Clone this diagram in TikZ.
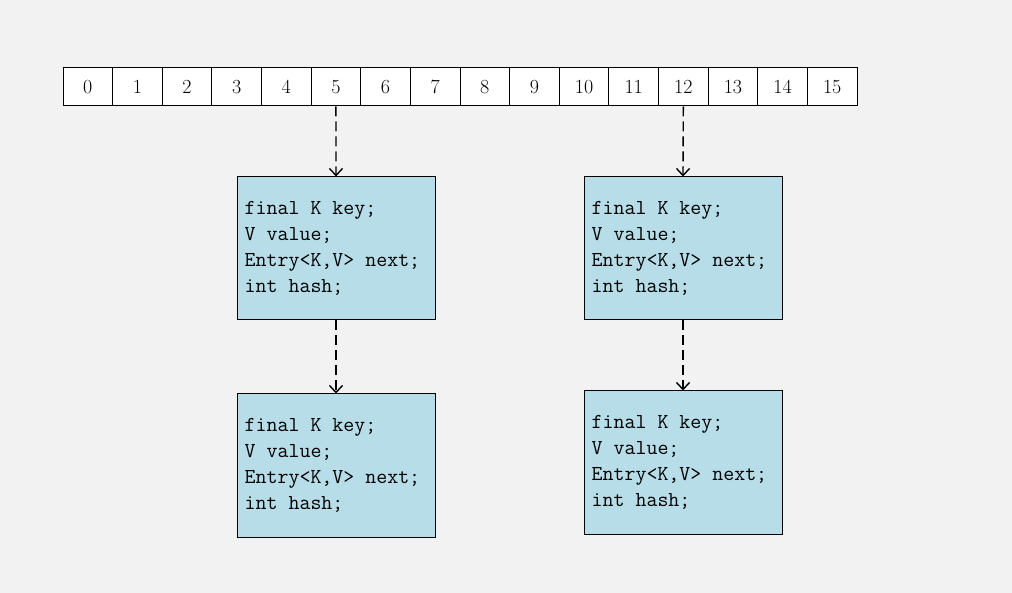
\documentclass[tikz,border=0pt]{standalone}
\usetikzlibrary{arrows.meta}
\definecolor{bg}{HTML}{F2F2F2}
\definecolor{boxblue}{HTML}{B7DDE8}
\begin{document}
\begin{tikzpicture}[x=1pt,y=-1pt,
  cell/.style={draw=black,fill=white,line width=1pt,minimum width=49.625pt,minimum height=38pt,inner sep=0pt,font=\fontsize{20}{20}\selectfont},
  entry/.style={draw=black,fill=boxblue,line width=1pt,minimum width=198pt,minimum height=143pt,inner sep=0pt},
  code/.style={anchor=west,align=left,inner sep=0pt,font=\ttfamily\fontsize{21.3}{26}\selectfont},
  link/.style={dashed,dash pattern=on 10pt off 5pt,line width=1.4pt,-{Straight Barb[length=7pt,width=13pt]}}]
\fill[bg] (0,0) rectangle (1012,593);
\useasboundingbox (0,0) rectangle (1012,593);
\foreach \i in {0,...,15} {
  \node[cell] (c\i) at ({63+(\i+0.5)*49.625},87) {\i};
}
\node[entry] (e1) at (336,248.5) {};
\node[entry] (e2) at (336,465.5) {};
\node[entry] (e3) at (683,248.5) {};
\node[entry] (e4) at (683,462.5) {};
\foreach \e in {e1,e2,e3,e4} {
  \node[code] (t\e) at ([xshift=8pt]\e.west) {final K key;\\V value;\\Entry<K,V> next;\\int hash;};
}
\draw[link] (c5.south) -- (e1.north);
\draw[link] (e1.south) -- (e2.north);
\draw[link] (c12.south) -- (e3.north);
\draw[link] (e3.south) -- (e4.north);
\end{tikzpicture}
\end{document}
